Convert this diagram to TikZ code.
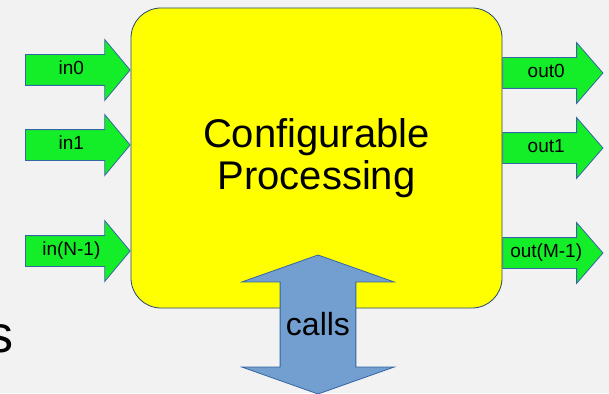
\documentclass[tikz,border=0pt]{standalone}
\usepackage{fontspec}
\setmainfont{Liberation Sans}
\usetikzlibrary{shapes.arrows, positioning}

\definecolor{procyellow}{RGB}{255,255,0}
\definecolor{portgreen}{RGB}{20,238,40}
\definecolor{callblue}{RGB}{114,159,207}
\definecolor{lineblue}{RGB}{52,101,164}
\definecolor{paper}{RGB}{242,242,242}

\tikzset{
    port/.style = {single arrow, draw=lineblue, fill=portgreen, line width=0.8pt,
        minimum width=60pt, minimum height=0pt, single arrow head extend=15pt,
        text height=13pt, text depth=4pt, inner ysep=6.5pt, inner xsep=2pt, align=center,
        font=\fontsize{19}{19}\selectfont},
    inport/.style = {port, text width=87pt, single arrow tip angle=100.4, anchor=tip},
    outport/.style = {port, text width=82pt, single arrow tip angle=98.2, anchor=tail},
}

\begin{document}
\begin{tikzpicture}[x=1pt, y=-1pt]
    \fill [paper] (0,0) rectangle (609,393);
    \useasboundingbox (0,0) rectangle (609,393);

    \node (word) [anchor=base east, inner sep=0pt, font=\fontsize{52}{52}\selectfont] at (14,352) {s};

    \node (proc) [draw=lineblue!70!black, fill=procyellow, line width=0.8pt, rounded corners=30pt,
        minimum width=371pt, minimum height=300pt, align=center,
        font=\fontsize{40}{42}\selectfont] at (316.5,158) {Configurable\\Processing};

    % inputs on the left edge
    \node (in0) [inport] at (proc.west |- 0,70) {in0};
    \node (in1) [inport] at (proc.west |- 0,145) {in1};
    \node (inN) [inport] at (proc.west |- 0,251) {in(N-1)};

    % outputs on the right edge
    \node (out0) [outport] at (proc.east |- 0,73) {out0};
    \node (out1) [outport] at (proc.east |- 0,148) {out1};
    \node (outM) [outport] at (proc.east |- 0,253) {out(M-1)};

    \node (calls) [double arrow, shape border rotate=90, draw=lineblue, fill=callblue, line width=0.8pt,
        minimum height=139pt, minimum width=152pt, double arrow head extend=36pt,
        double arrow tip angle=141, font=\fontsize{32}{32}\selectfont] at (318,324.5) {calls};
\end{tikzpicture}
\end{document}
